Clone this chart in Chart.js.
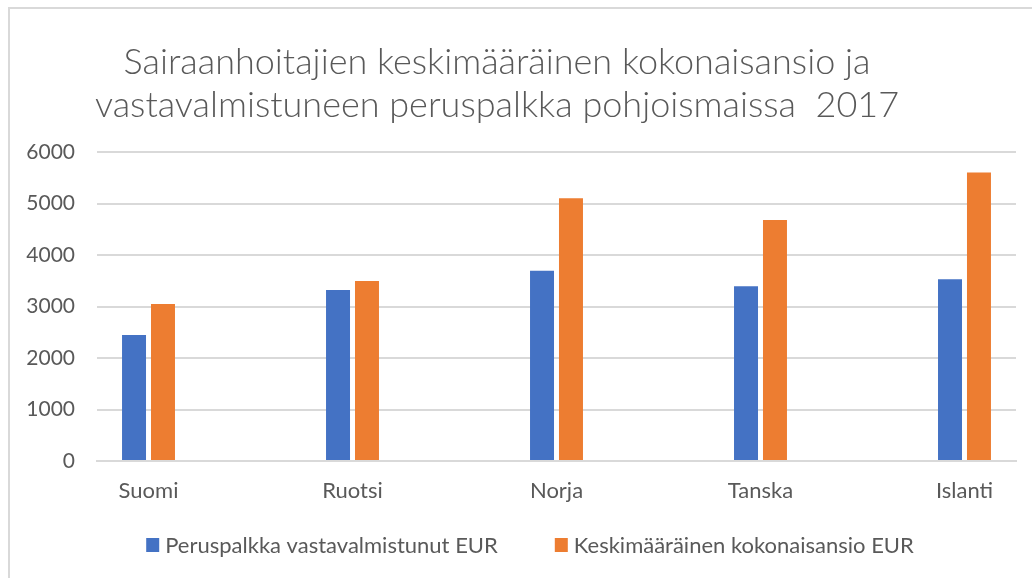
<!DOCTYPE html>
<html>
<head>
<meta charset="utf-8">
<script src="https://cdn.jsdelivr.net/npm/chart.js@4.4.1/dist/chart.umd.min.js"></script>
<style>
  html, body { margin: 0; padding: 0; background: #fff; overflow: hidden; }
  #wrap { position: relative; width: 1032px; height: 578px; }
  #frame { position: absolute; left: 8px; top: 7px; width: 1100px; height: 700px; border: 2px solid #d9d9d9; box-sizing: border-box; pointer-events: none; }
  canvas { position: absolute; left: 0; top: 0; }
</style>
</head>
<body>
<div id="wrap">
  <canvas id="c" width="1032" height="578"></canvas>
  <div id="frame"></div>
</div>
<script>
const titleLines = [
  'Sairaanhoitajien keskimääräinen kokonaisansio ja',
  'vastavalmistuneen peruspalkka pohjoismaissa  2017'
];
const categories = ['Suomi', 'Ruotsi', 'Norja', 'Tanska', 'Islanti'];
const seriesNames = ['Peruspalkka vastavalmistunut EUR', 'Keskimääräinen kokonaisansio EUR'];
const peruspalkka = [2445, 3320, 3695, 3395, 3530];
const kokonaisansio = [3050, 3495, 5100, 4680, 5600];
const yTicks = [0, 1000, 2000, 3000, 4000, 5000, 6000];

const FONT = 'Lato, "Open Sans", sans-serif';
const TEXT = '#595959';

const toPoints = arr => arr.map((v, i) => ({ x: i, y: v }));

const titlePlugin = {
  id: 'twoLineTitle',
  afterDraw(chart) {
    const ctx = chart.ctx;
    ctx.save();
    ctx.fillStyle = TEXT;
    ctx.font = '300 36px ' + FONT;
    ctx.textAlign = 'center';
    ctx.textBaseline = 'alphabetic';
    ctx.fillText(titleLines[0], 497, 74);
    ctx.fillText(titleLines[1], 497, 117);
    ctx.restore();
  }
};

const legendPlugin = {
  id: 'bottomLegend',
  afterDraw(chart) {
    const ctx = chart.ctx;
    const boxW = 13, boxH = 14, gapBoxText = 6, gapItems = 57;
    const centerX = 530, centerY = 545;
    ctx.save();
    ctx.font = '22px ' + FONT;
    ctx.textBaseline = 'middle';
    ctx.textAlign = 'left';
    const items = chart.data.datasets.map(ds => ({
      label: ds.label, color: ds.backgroundColor, w: ctx.measureText(ds.label).width
    }));
    const total = items.reduce((s, it) => s + boxW + gapBoxText + it.w, 0) + gapItems * (items.length - 1);
    let x = centerX - total / 2;
    items.forEach(it => {
      ctx.fillStyle = it.color;
      ctx.fillRect(x, centerY - boxH / 2, boxW, boxH);
      x += boxW + gapBoxText;
      ctx.fillStyle = TEXT;
      ctx.fillText(it.label, x, centerY + 1);
      x += it.w + gapItems;
    });
    ctx.restore();
  }
};

new Chart(document.getElementById('c'), {
  type: 'bar',
  data: {
    datasets: [
      { label: seriesNames[0], data: toPoints(peruspalkka), backgroundColor: '#4472C4',
        categoryPercentage: 0.284, barPercentage: 0.828 },
      { label: seriesNames[1], data: toPoints(kokonaisansio), backgroundColor: '#ED7D31',
        categoryPercentage: 0.284, barPercentage: 0.828 }
    ]
  },
  plugins: [titlePlugin, legendPlugin],
  options: {
    responsive: false,
    animation: false,
    layout: { padding: { left: 10, right: 16, top: 152, bottom: 67 } },
    plugins: {
      title: { display: false },
      legend: { display: false },
      tooltip: { enabled: false }
    },
    scales: {
      x: {
        type: 'linear',
        offset: false,
        min: -0.2525,
        max: 4.2525,
        afterBuildTicks: s => { s.ticks = categories.map((c, i) => ({ value: i })); },
        afterFit: s => { s.height = 50; },
        ticks: {
          color: TEXT,
          font: { family: FONT, size: 22 },
          padding: 17,
          callback: v => categories[v] ?? ''
        },
        grid: { display: false, drawTicks: false },
        border: { display: true, color: '#d9d9d9', width: 2 }
      },
      y: {
        min: 0, max: 6000,
        afterBuildTicks: s => { s.ticks = yTicks.map(v => ({ value: v })); },
        afterFit: s => { s.width = 87; },
        ticks: {
          color: TEXT,
          font: { family: FONT, size: 21 },
          padding: 22,
          callback: v => String(v)
        },
        grid: { color: '#d9d9d9', lineWidth: 2, drawTicks: false },
        border: { display: false }
      }
    }
  }
});
</script>
</body>
</html>
